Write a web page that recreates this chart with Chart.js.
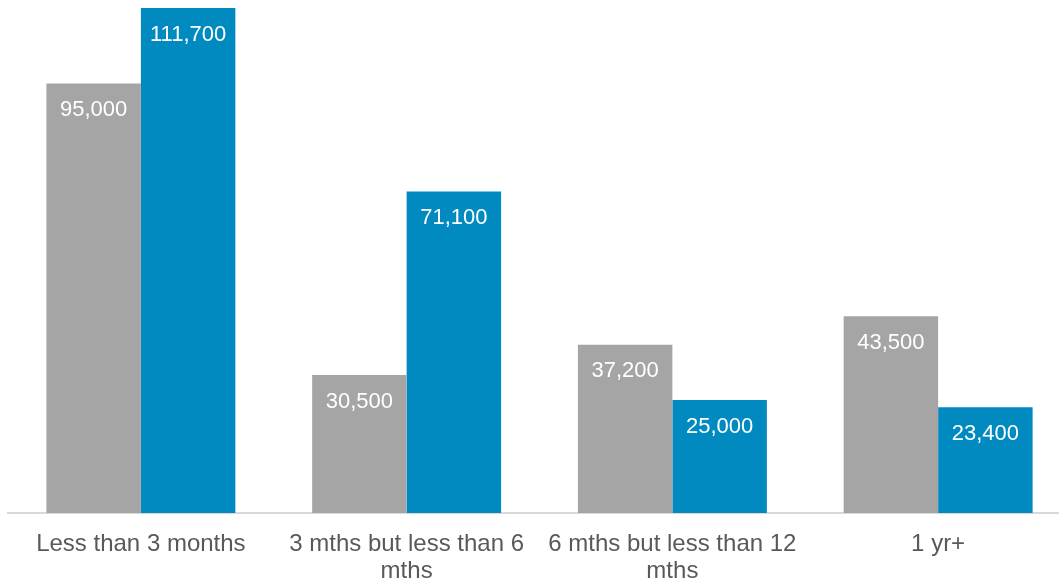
<!DOCTYPE html>
<html>
<head>
<meta charset="utf-8">
<script src="https://cdn.jsdelivr.net/npm/chart.js@4"></script>
<style>
html,body{margin:0;padding:0;background:#fff;overflow:hidden;}
#wrap{width:1071px;height:580px;position:relative;}
</style>
</head>
<body>
<div id="wrap"><canvas id="c"></canvas></div>
<script>
const categories = [
  "Less than 3 months",
  ["3 mths but less than 6", "mths"],
  ["6 mths but less than 12", "mths"],
  "1 yr+"
];
const seriesGrey = [95000, 30500, 37200, 43500];
const seriesBlue = [111700, 71100, 25000, 23400];

const FONT = '"Liberation Sans", Arial, sans-serif';

const valueLabels = {
  id: 'valueLabels',
  afterDatasetsDraw(chart) {
    const ctx = chart.ctx;
    ctx.save();
    ctx.font = '22px ' + FONT;
    ctx.fillStyle = '#ffffff';
    ctx.textAlign = 'center';
    ctx.textBaseline = 'middle';
    chart.data.datasets.forEach((ds, di) => {
      const meta = chart.getDatasetMeta(di);
      meta.data.forEach((bar, i) => {
        ctx.fillText(ds.data[i].toLocaleString('en-US'), bar.x, bar.y + 26.5);
      });
    });
    ctx.restore();
  }
};

new Chart(document.getElementById('c'), {
  type: 'bar',
  data: {
    labels: categories,
    datasets: [
      { data: seriesGrey, backgroundColor: '#a5a5a5', categoryPercentage: 0.711, barPercentage: 1.0 },
      { data: seriesBlue, backgroundColor: '#008ac0', categoryPercentage: 0.711, barPercentage: 1.0 }
    ]
  },
  options: {
    responsive: true,
    maintainAspectRatio: false,
    animation: false,
    layout: { padding: { left: 8, right: 0, top: 8, bottom: 0 } },
    plugins: { legend: { display: false }, tooltip: { enabled: false } },
    scales: {
      x: {
        afterFit(scale) { scale.height = 67; },
        grid: { display: false, drawTicks: false },
        border: { display: true, color: '#d9d9d9', width: 2 },
        ticks: {
          color: '#595959',
          padding: 18,
          maxRotation: 0,
          autoSkip: false,
          font: { family: FONT, size: 24, lineHeight: 1.125 }
        }
      },
      y: {
        display: false,
        min: 0,
        max: 111700
      }
    }
  },
  plugins: [valueLabels]
});
</script>
</body>
</html>
